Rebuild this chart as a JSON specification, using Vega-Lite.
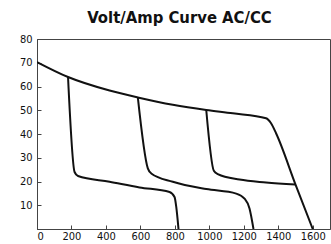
{
  "$schema": "https://vega.github.io/schema/vega-lite/v6.json",
  "autosize": "none",
  "padding": {"left": 37, "top": 39, "right": 1, "bottom": 15},
  "width": 293,
  "height": 190,
  "title": {"text": "Volt/Amp Curve AC/CC", "font": "DejaVu Sans Condensed, sans-serif", "fontSize": 16.5, "fontWeight": "bold", "color": "#111", "offset": 7, "anchor": "middle", "dx": -4},
  "config": {
    "view": {"stroke": "#444", "strokeWidth": 1},
    "axis": {"labelFont": "DejaVu Sans Condensed, sans-serif", "labelFontSize": 11, "labelColor": "#111", "domainColor": "#444", "tickColor": "#444", "grid": false, "title": null, "tickSize": -4, "format": "d"}
  },
  "data": {"values": [
    {"s": "env", "a": 0, "v": 70.3},
    {"s": "env", "a": 180, "v": 64},
    {"s": "env", "a": 421, "v": 58.3},
    {"s": "env", "a": 585, "v": 55.4},
    {"s": "env", "a": 788, "v": 52.3},
    {"s": "env", "a": 982, "v": 50.1},
    {"s": "env", "a": 1136, "v": 48.7},
    {"s": "env", "a": 1329, "v": 46.6},
    {"s": "env", "a": 1358, "v": 44.5},
    {"s": "env", "a": 1387, "v": 40.3},
    {"s": "env", "a": 1500, "v": 18.7},
    {"s": "env", "a": 1600, "v": 0},
    {"s": "c1", "a": 180, "v": 64},
    {"s": "c1", "a": 218, "v": 24},
    {"s": "c1", "a": 238, "v": 22.3},
    {"s": "c1", "a": 421, "v": 19.9},
    {"s": "c1", "a": 595, "v": 17.5},
    {"s": "c1", "a": 769, "v": 15.6},
    {"s": "c1", "a": 798, "v": 13.5},
    {"s": "c1", "a": 808, "v": 9.3},
    {"s": "c1", "a": 821, "v": 0},
    {"s": "c2", "a": 585, "v": 55.4},
    {"s": "c2", "a": 643, "v": 25.5},
    {"s": "c2", "a": 663, "v": 23.4},
    {"s": "c2", "a": 788, "v": 19.9},
    {"s": "c2", "a": 982, "v": 16.8},
    {"s": "c2", "a": 1156, "v": 14.9},
    {"s": "c2", "a": 1204, "v": 12.8},
    {"s": "c2", "a": 1233, "v": 8.6},
    {"s": "c2", "a": 1256, "v": 0},
    {"s": "c3", "a": 982, "v": 50.1},
    {"s": "c3", "a": 1026, "v": 24.5},
    {"s": "c3", "a": 1049, "v": 23.1},
    {"s": "c3", "a": 1175, "v": 20.8},
    {"s": "c3", "a": 1329, "v": 19.6},
    {"s": "c3", "a": 1500, "v": 18.7}
  ]},
  "mark": {"type": "line", "color": "#111", "strokeWidth": 2, "interpolate": "monotone", "clip": true},
  "encoding": {
    "x": {"field": "a", "type": "quantitative", "scale": {"domain": [0, 1700], "nice": false}, "axis": {"values": [0, 200, 400, 600, 800, 1000, 1200, 1400, 1600], "labelPadding": 5}},
    "y": {"field": "v", "type": "quantitative", "scale": {"domain": [0, 80], "nice": false}, "axis": {"values": [10, 20, 30, 40, 50, 60, 70, 80], "labelPadding": 9}},
    "detail": {"field": "s"}
  }
}
